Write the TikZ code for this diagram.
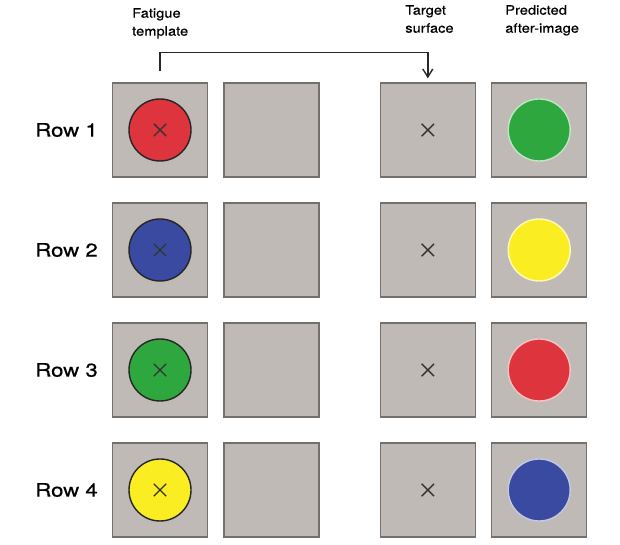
\documentclass[tikz,border=0pt]{standalone}
\usepackage{fontspec}
\setmainfont{TeX Gyre Heros}[FakeBold=0.4]
\usetikzlibrary{arrows.meta,shapes.misc,positioning}
\definecolor{panel}{RGB}{192,186,182}
\definecolor{panelrim}{RGB}{118,112,108}
\definecolor{cred}{RGB}{222,52,62}
\definecolor{cblue}{RGB}{58,74,160}
\definecolor{cgreen}{RGB}{46,168,62}
\definecolor{cyellow}{RGB}{250,238,34}

\begin{document}
\begin{tikzpicture}[x=1pt,y=1pt,
  panelbox/.style={draw=panelrim, fill=panel, line width=1.4pt,
    minimum width=95pt, minimum height=94pt, inner sep=0pt},
  disc/.style={circle, minimum size=62pt, inner sep=0pt, line width=1.4pt},
  fix/.style={cross out, draw=black!80, minimum size=11pt, inner sep=0pt, line width=1.4pt},
  rowlab/.style={font=\fontsize{18.5}{20}\selectfont, anchor=east, inner sep=0pt,
    xscale=1.2, transform shape},
  head/.style={font=\fontsize{13}{18}\selectfont, align=left, anchor=north west,
    inner sep=0pt, xscale=1.13, transform shape},
  conn/.style={line width=1.4pt, draw=black!85, -{Straight Barb[length=8pt,width=10pt]}}]
\useasboundingbox (0,0) rectangle (620,545);

\foreach \c/\p [count=\i] in {cred/cgreen, cblue/cyellow, cgreen/cred, cyellow/cblue}{
  \node[panelbox] (t\i) at (160,{415-120*(\i-1)}) {};
  \node[panelbox, right=15pt of t\i] (b\i) {};
  \node[panelbox, right=60pt of b\i] (s\i) {};
  \node[panelbox, right=15pt of s\i] (p\i) {};
  \node[disc, draw=black!85, fill=\c] (f\i) at (t\i) {};
  \node[fix] (x\i) at (f\i) {};
  \node[fix] (y\i) at (s\i) {};
  \node[disc, draw=white!70!\p, fill=\p] (a\i) at (p\i) {};
  \node[rowlab] (r\i) at (98,{415-120*(\i-1)}) {Row \i};
}

% headers
\node[head] (hf) at (132,537) {Fatigue\\template};
\node[head] (hs) at (405,540) {Target\\surface};
\node[head] (hp) at (505,540) {Predicted\\after-image};

\draw[conn] ([yshift=11pt]t1.north) -- ++(0,19) -| ([yshift=4pt]s1.north);
\end{tikzpicture}
\end{document}
